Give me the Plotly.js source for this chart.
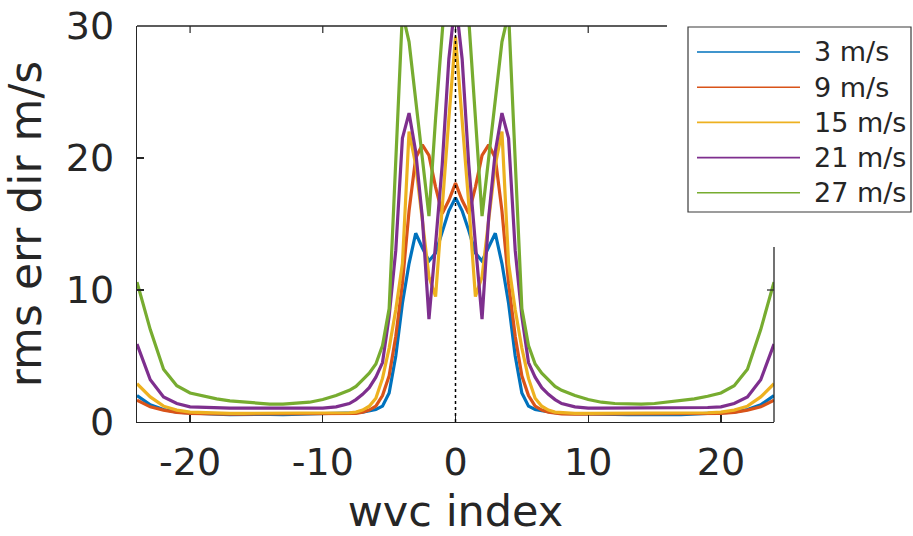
<!DOCTYPE html>
<html>
<head>
<meta charset="utf-8">
<script src="https://cdn.plot.ly/plotly-3.0.1.min.js"></script>
<style>
  html, body { margin: 0; padding: 0; background: #ffffff; }
  #chart { width: 913px; height: 536px; }
</style>
</head>
<body>
<div id="chart"></div>
<script>
// ---- data ----
const wvcIndex = [
  -24,-23,-22,-21,-20,-19,-18,-17,-16,-15,-14,-13,-12,-11,-10,-9,-8,
  -7.5,-7,-6.5,-6,-5.5,-5,-4.5,-4,-3.5,-3,-2.5,-2,-1.5,-1,-0.5,
  0,
  0.5,1,1.5,2,2.5,3,3.5,4,4.5,5,5.5,6,6.5,7,7.5,
  8,9,10,11,12,13,14,15,16,17,18,19,20,21,22,23,24
];

const seriesNames = ["3 m/s", "9 m/s", "15 m/s", "21 m/s", "27 m/s"];
const seriesColors = ["#0072BD", "#D95319", "#EDB120", "#7E2F8E", "#77AC30"];

const rms3 = [
  2.0,1.3,0.95,0.75,0.68,0.62,0.6,0.56,0.58,0.56,0.58,0.56,0.58,0.6,0.6,0.62,0.65,
  0.7,0.75,0.85,0.95,1.2,2.2,5.0,9.0,12.0,14.3,13.2,12.2,12.8,14.5,16.0,
  17.0,
  16.0,14.5,12.8,12.2,13.2,14.3,12.0,9.0,5.0,2.2,1.2,0.95,0.85,0.75,0.7,
  0.65,0.62,0.6,0.6,0.58,0.56,0.58,0.56,0.58,0.56,0.6,0.62,0.68,0.75,0.95,1.3,2.0
];
const rms9 = [
  1.65,1.15,0.9,0.72,0.65,0.62,0.6,0.6,0.6,0.6,0.6,0.6,0.6,0.6,0.6,0.6,0.62,
  0.66,0.75,0.9,1.2,2.0,3.5,6.5,10.5,16.0,20.0,21.0,20.2,17.8,15.8,16.8,
  18.1,
  16.8,15.8,17.8,20.2,21.0,20.0,16.0,10.5,6.5,3.5,2.0,1.2,0.9,0.75,0.66,
  0.62,0.6,0.6,0.6,0.6,0.6,0.6,0.6,0.6,0.6,0.6,0.62,0.65,0.72,0.9,1.15,1.65
];
const rms15 = [
  2.9,1.9,1.2,0.9,0.75,0.7,0.66,0.66,0.66,0.66,0.66,0.66,0.66,0.66,0.66,0.66,0.7,
  0.75,0.9,1.2,1.8,3.3,5.6,8.5,12.0,22.0,19.5,15.3,11.0,9.5,16.5,23.0,
  29.2,
  23.0,16.5,9.5,11.0,15.3,19.5,22.0,12.0,8.5,5.6,3.3,1.8,1.2,0.9,0.75,
  0.7,0.66,0.66,0.66,0.66,0.66,0.66,0.66,0.66,0.66,0.66,0.7,0.75,0.9,1.2,1.9,2.9
];
const rms21 = [
  5.9,3.2,1.9,1.4,1.15,1.1,1.05,1.05,1.05,1.05,1.05,1.05,1.05,1.05,1.05,1.15,1.4,
  1.7,2.1,2.6,3.4,4.5,8.0,13.0,21.5,23.4,20.5,15.5,7.8,13.5,19.5,27.5,
  32.0,
  27.5,19.5,13.5,7.8,15.5,20.5,23.4,21.5,13.0,8.0,4.5,3.4,2.6,2.1,1.7,
  1.4,1.15,1.05,1.05,1.05,1.05,1.05,1.05,1.05,1.05,1.05,1.1,1.15,1.4,1.9,3.2,5.9
];
const rms27 = [
  10.6,7.0,4.0,2.75,2.2,1.95,1.75,1.6,1.5,1.4,1.36,1.36,1.4,1.5,1.7,2.0,2.4,
  2.7,3.2,3.7,4.4,5.8,8.6,19.5,31.0,28.8,24.4,20.0,15.6,23.0,30.5,36.0,
  40.0,
  36.0,30.5,23.0,15.6,20.0,24.4,28.8,31.0,19.5,8.6,5.8,4.4,3.7,3.2,2.7,
  2.4,2.0,1.7,1.5,1.4,1.36,1.36,1.4,1.5,1.6,1.75,1.95,2.2,2.75,4.0,7.0,10.6
];

const seriesValues = [rms3, rms9, rms15, rms21, rms27];

const xTickVals = [-20, -10, 0, 10, 20];
const yTickVals = [0, 10, 20, 30];
const xTitle = "wvc index";
const yTitle = "rms err dir m/s";

// ---- layout geometry ----
const W = 913, H = 536;
const M = { l: 137, r: 139, t: 26, b: 114 };
const PW = W - M.l - M.r, PH = H - M.t - M.b;
const px = v => (v - M.l) / PW;          // pixel x -> paper x
const py = v => (H - M.b - v) / PH;      // pixel y -> paper y
const ink = "#262626";
const FONT = "DejaVu Sans, Liberation Sans, sans-serif";

const traces = seriesValues.map((vals, i) => ({
  type: "scatter",
  mode: "lines",
  x: wvcIndex,
  y: vals,
  name: seriesNames[i],
  line: { color: seriesColors[i], width: 3.2 },
  showlegend: false,
  hoverinfo: "skip"
}));

const shapes = [];
// partial top border
shapes.push({ type: "line", xref: "paper", yref: "paper", x0: 0, x1: px(667), y0: 1, y1: 1,
  line: { color: ink, width: 1.3 } });
// partial right border
shapes.push({ type: "line", xref: "paper", yref: "paper", x0: 1, x1: 1, y0: 0, y1: py(247),
  line: { color: ink, width: 1.3 } });
// top ticks
[-20, -10, 0, 10].forEach(t => shapes.push({ type: "line", xref: "x", yref: "paper",
  x0: t, x1: t, y0: 1, y1: 1 - 7 / PH, line: { color: ink, width: 1.2 } }));
// right ticks
[10].forEach(t => shapes.push({ type: "line", xref: "paper", yref: "y",
  x0: 1, x1: 1 - 7 / PW, y0: t, y1: t, line: { color: ink, width: 1.2 } }));
// dotted zero line
shapes.push({ type: "line", xref: "x", yref: "paper", x0: 0, x1: 0, y0: 0, y1: 1,
  line: { color: "#000000", width: 1.5, dash: "dot" }, layer: "above" });

// custom legend box
shapes.push({ type: "rect", xref: "paper", yref: "paper",
  x0: px(688), x1: px(911), y0: py(212), y1: py(27),
  fillcolor: "#ffffff", line: { color: "#3a3a3a", width: 1.2 }, layer: "above" });
const annotations = [];
seriesNames.forEach((name, i) => {
  const yy = 52 + 35.2 * i;
  shapes.push({ type: "line", xref: "paper", yref: "paper",
    x0: px(697), x1: px(800), y0: py(yy), y1: py(yy),
    line: { color: seriesColors[i], width: 1.6 }, layer: "above" });
  annotations.push({ xref: "paper", yref: "paper", x: px(812), y: py(yy),
    xanchor: "left", yanchor: "middle", showarrow: false, text: name,
    font: { family: FONT, size: 27, color: ink } });
});

const axisCommon = {
  ticks: "inside", ticklen: 7, tickwidth: 1.2, tickcolor: ink,
  showline: true, linecolor: ink, linewidth: 1.3,
  showgrid: false, zeroline: false, automargin: false,
  tickfont: { family: FONT, size: 38, color: ink }
};

const layout = {
  width: W, height: H,
  margin: M,
  paper_bgcolor: "#ffffff", plot_bgcolor: "#ffffff",
  showlegend: false,
  xaxis: Object.assign({}, axisCommon, {
    range: [-24, 24], tickvals: xTickVals, ticktext: xTickVals.map(String),
    ticklabelstandoff: 6,
    title: { text: xTitle, font: { family: FONT, size: 43, color: ink }, standoff: 14 }
  }),
  yaxis: Object.assign({}, axisCommon, {
    range: [0, 30], tickvals: yTickVals, ticktext: yTickVals.map(String),
    ticklabelstandoff: 14,
    title: { text: yTitle, font: { family: FONT, size: 44, color: ink }, standoff: 14 }
  }),
  shapes: shapes,
  annotations: annotations
};

Plotly.newPlot("chart", traces, layout, { displayModeBar: false, staticPlot: true });
</script>
</body>
</html>
